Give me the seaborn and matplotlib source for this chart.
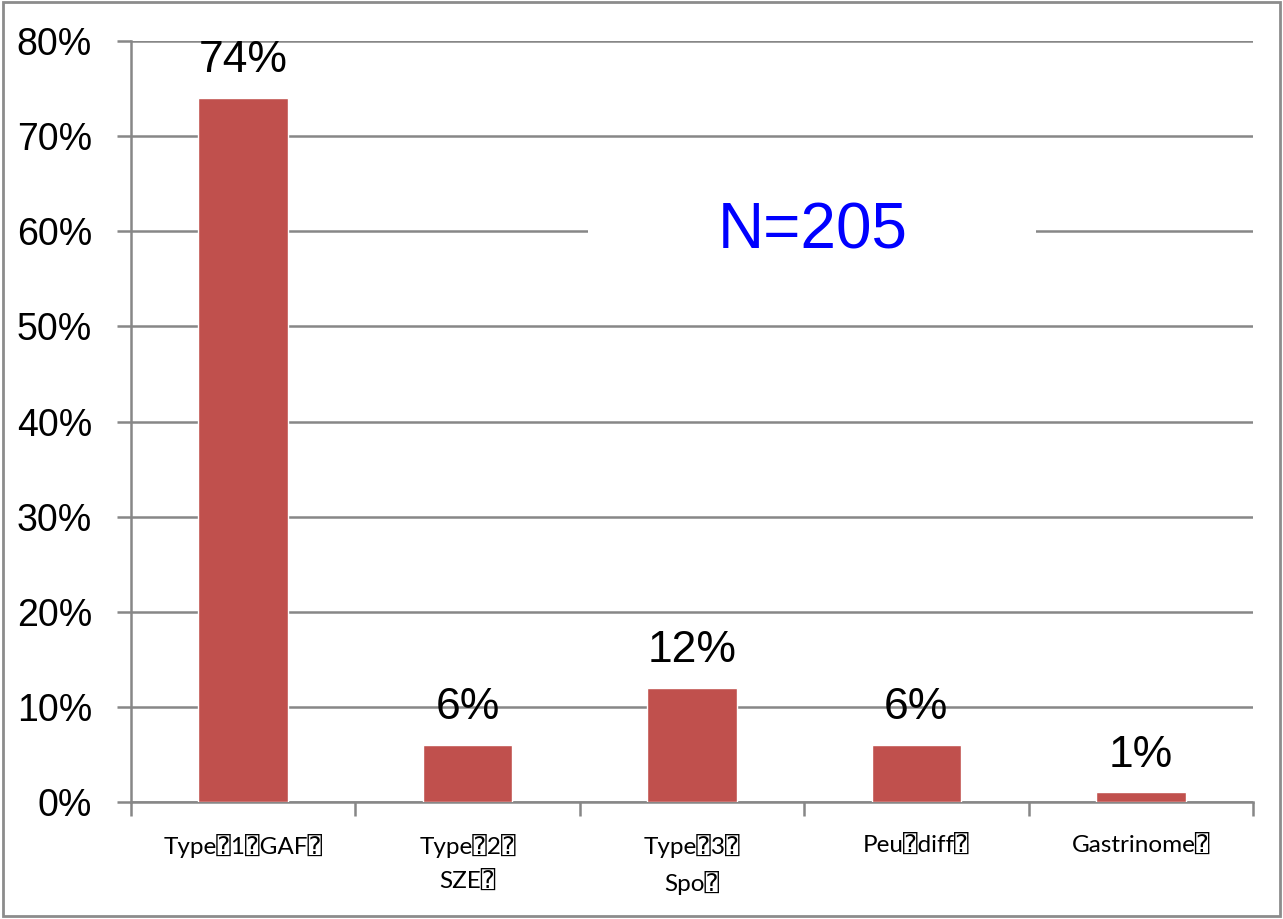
import matplotlib
matplotlib.use("Agg")
import matplotlib.pyplot as plt
import seaborn as sns
import pandas as pd
from matplotlib.ticker import FuncFormatter, FixedLocator
from matplotlib.patches import Rectangle

sns.set_theme(style="white")

BOX = "\u2370"
categories = [f"Type{BOX}1{BOX}GAF{BOX}", f"Type{BOX}2{BOX}\nSZE{BOX}",
              f"Type{BOX}3{BOX}\nSpo{BOX}", f"Peu{BOX}diff{BOX}", f"Gastrinome{BOX}"]
values = [0.74, 0.06, 0.12, 0.06, 0.01]
value_labels = ["74%", "6%", "12%", "6%", "1%"]
yticks = [0, 0.1, 0.2, 0.3, 0.4, 0.5, 0.6, 0.7, 0.8]

df = pd.DataFrame({"cat": categories, "val": values})

fig = plt.figure(figsize=(12.83, 9.19), dpi=100)
ax = fig.add_axes([131 / 1283, 1 - 802 / 919, (1253 - 131) / 1283, (802 - 41) / 919])

grid_c = "#878787"
sns.barplot(data=df, x="cat", y="val", color="#C0504D", width=0.4,
            saturation=1, ax=ax, zorder=3)

ax.set_ylim(0, 0.8)
ax.set_xlim(-0.5, len(categories) - 0.5)
ax.set_yticks(yticks)
ax.yaxis.set_major_formatter(FuncFormatter(lambda v, p: f"{v*100:.0f}%"))
ax.yaxis.grid(True, color=grid_c, linewidth=1.8, zorder=0)
ax.set_axisbelow(True)
ax.set_xlabel("")
ax.set_ylabel("")

for s in ["top", "right"]:
    ax.spines[s].set_visible(False)
for s in ["left", "bottom"]:
    ax.spines[s].set_color(grid_c)
    ax.spines[s].set_linewidth(1.8)

ax.tick_params(axis="y", which="major", length=10, width=1.8, color=grid_c,
               pad=18, labelsize=27, left=True)
ax.tick_params(axis="x", which="major", length=0, pad=23)
ax.xaxis.set_minor_locator(FixedLocator([i - 0.5 for i in range(len(categories) + 1)]))
ax.tick_params(axis="x", which="minor", length=10, width=1.8, color=grid_c, bottom=True)

for lab in ax.get_yticklabels():
    lab.set_family(["Liberation Sans", "DejaVu Sans"])
    lab.set_color("black")
for lab in ax.get_xticklabels():
    lab.set_family(["Lato", "DejaVu Sans Mono"])
    lab.set_fontsize(17.5)
    lab.set_linespacing(1.65)
    lab.set_color("black")

for i, (v, t) in enumerate(zip(values, value_labels)):
    ax.annotate(t, (i, v), xytext=(0, 12), textcoords="offset points",
                ha="center", va="bottom", fontsize=32,
                family=["Liberation Sans", "DejaVu Sans"], color="black")

# white panel behind the sample-size note, interrupting the 60% gridline
ax.add_patch(Rectangle(((588 - 131) / 1122, 0.72), (1036 - 588) / 1122, 0.06,
                       transform=ax.transAxes, facecolor="white", edgecolor="none",
                       zorder=1))
ax.text(2.54, 0.6, "N=205", ha="center", va="center",
        fontsize=46, color="#0000FF", family=["Liberation Sans", "DejaVu Sans"],
        zorder=4)

fig.patches.append(Rectangle((0.002, 0.003), 0.996, 0.995, transform=fig.transFigure,
                             fill=False, edgecolor="#8c8c8c", linewidth=2))

fig.savefig("out.png", dpi=100)
